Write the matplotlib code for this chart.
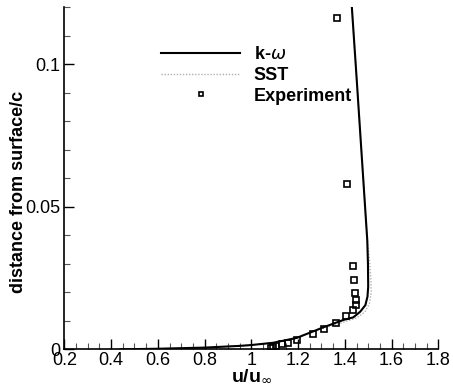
import matplotlib
matplotlib.use("Agg")
import matplotlib.pyplot as plt
from matplotlib.ticker import FixedLocator, MultipleLocator, FixedFormatter

plt.rcParams['font.family'] = ['Liberation Sans', 'DejaVu Sans']
plt.rcParams['mathtext.fontset'] = 'dejavusans'

# k-omega model profile
kw_u = [0.44, 0.60, 0.80, 0.95, 1.00, 1.094, 1.194, 1.308, 1.394, 1.436, 1.466, 1.488,
        1.497, 1.500, 1.499, 1.496, 1.451, 1.430]
kw_y = [0.0, 0.0002, 0.0006, 0.0012, 0.0015, 0.0023, 0.0040, 0.0077, 0.0103, 0.0112,
        0.0132, 0.0155, 0.0185, 0.0220, 0.0300, 0.0383, 0.0944, 0.1200]

# SST model profile
sst_u = [0.44, 0.60, 0.80, 0.95, 1.00, 1.094, 1.194, 1.308, 1.394, 1.450, 1.485, 1.505,
         1.513, 1.511, 1.505, 1.496, 1.451, 1.430]
sst_y = [0.0, 0.0002, 0.0006, 0.0012, 0.0015, 0.0023, 0.0040, 0.0074, 0.0095, 0.0110,
         0.0130, 0.0160, 0.0200, 0.0250, 0.0320, 0.0383, 0.0944, 0.1200]

# Experiment
exp_u = [1.368, 1.408, 1.434, 1.441, 1.444, 1.447, 1.447, 1.434, 1.403, 1.362, 1.312,
         1.263, 1.194, 1.158, 1.130, 1.106, 1.094, 1.083]
exp_y = [0.1162, 0.0579, 0.0292, 0.0242, 0.0196, 0.0173, 0.0157, 0.0137, 0.0116, 0.0093,
         0.0072, 0.0055, 0.0033, 0.0023, 0.0017, 0.0012, 0.0007, 0.0003]

x_ticks = [0.2, 0.4, 0.6, 0.8, 1.0, 1.2, 1.4, 1.6, 1.8]
x_labels = ['0.2', '0.4', '0.6', '0.8', '1', '1.2', '1.4', '1.6', '1.8']
y_ticks = [0.0, 0.05, 0.1]
y_labels = ['0', '0.05', '0.1']

fig = plt.figure(figsize=(4.53, 3.91), dpi=100)
ax = fig.add_axes([0.142, 0.1066, 0.8256, 0.8754])

ax.plot(sst_u, sst_y, color='#b0b0b0', lw=1.0, ls=(0, (1, 1.2)), label='SST', zorder=2)
ax.plot(kw_u, kw_y, color='black', lw=1.5, label=r'k-$\omega$', zorder=3)
ax.plot(exp_u, exp_y, ls='none', marker='s', ms=4.6, mfc='none', mec='black', mew=1.2,
        label='Experiment', zorder=4)

ax.set_xlim(0.2, 1.8)
ax.set_ylim(0.0, 0.12)

ax.xaxis.set_major_locator(FixedLocator(x_ticks))
ax.xaxis.set_major_formatter(FixedFormatter(x_labels))
ax.xaxis.set_minor_locator(MultipleLocator(0.05))
ax.yaxis.set_major_locator(FixedLocator(y_ticks))
ax.yaxis.set_major_formatter(FixedFormatter(y_labels))
ax.yaxis.set_minor_locator(MultipleLocator(0.01))

ax.tick_params(which='major', direction='in', length=7, width=1.0, labelsize=13, pad=2)
ax.tick_params(which='minor', direction='in', length=4, width=0.8, color='#555555')
ax.tick_params(axis='y', which='major', pad=3)

for s in ['top', 'right']:
    ax.spines[s].set_visible(False)
for s in ['left', 'bottom']:
    ax.spines[s].set_linewidth(1.2)

ax.set_xlabel(r'u/u$_{\infty}$', fontsize=14, fontweight='bold', labelpad=-1)
ax.set_ylabel('distance from surface/c', fontsize=13, fontweight='bold')
ax.yaxis.set_label_coords(-0.10, 0.46)

handles, labels = ax.get_legend_handles_labels()
order = [1, 0, 2]
leg = ax.legend([handles[i] for i in order], [labels[i] for i in order],
                loc='upper left', bbox_to_anchor=(0.258, 0.885), frameon=False,
                borderpad=0, borderaxespad=0, handlelength=4.4, handletextpad=0.75,
                labelspacing=0.2, numpoints=1, markerscale=0.75,
                prop={'family': 'Liberation Sans', 'weight': 'bold', 'size': 13})

fig.savefig('out.png', dpi=100)
